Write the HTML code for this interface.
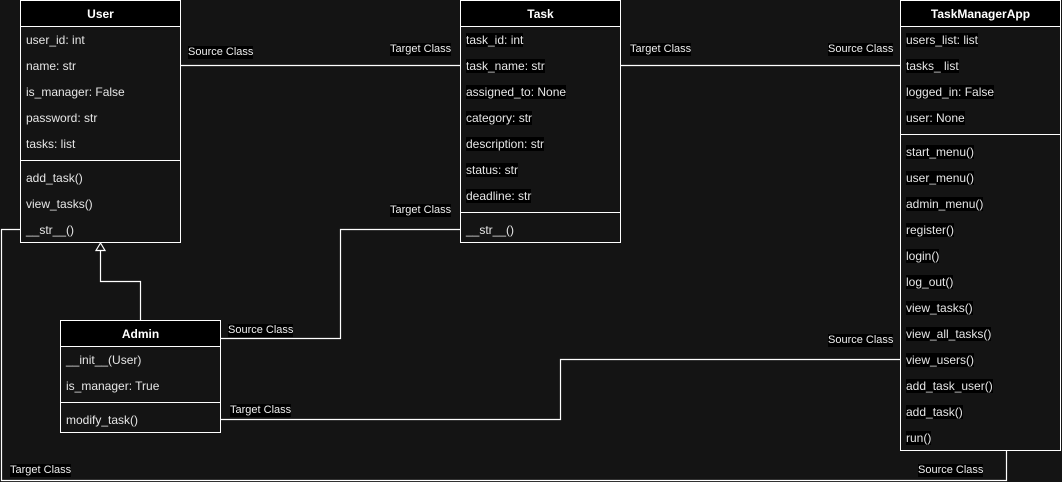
<!DOCTYPE html>
<html><head><meta charset="utf-8"><style>
body{margin:0;width:1062px;height:482px;background:#141414;position:relative;overflow:hidden;font-family:"Liberation Sans",Arial,sans-serif;font-size:12px;color:#e6e6e6}
.b{position:absolute;border:1px solid #fff;box-sizing:border-box;background:#141414}
.h{position:absolute;left:0;right:0;top:0;height:25px;background:#000;border-bottom:1px solid #fff;color:#fff;font-weight:bold;font-size:12px;text-align:center;line-height:26px}
.t{position:absolute;left:5px;line-height:14px;white-space:nowrap}
.k{background:#000}
.s{position:absolute;left:0;right:0;border-top:1px solid #fff}
.l{position:absolute;background:#000;color:#eee;line-height:13px;white-space:nowrap;font-size:11px}
svg{position:absolute;left:0;top:0}
</style></head><body>
<svg width="1062" height="482">
<g stroke="#fff" stroke-width="1.2" fill="none">
<path d="M180 65.5H460"/>
<path d="M620 65.5H900"/>
<path d="M220 338.5H340.5V229.5H460"/>
<path d="M220 419.5H560.5V359.5H900"/>
<path d="M20 229.5H1.5V480.5H1006.5V450"/>
<path d="M140.5 320V281.5H100.5V250"/>
<path d="M100.5 243L96 250.5H105Z" fill="#141414"/>
</g>
</svg>
<div class="b" style="left:20px;top:0;width:161px;height:243px"><div class="h">User</div>
<div class="t" style="top:32px">user_id: int</div><div class="t" style="top:58px">name: str</div><div class="t" style="top:84px">is_manager: False</div><div class="t" style="top:110px">password: str</div><div class="t" style="top:136px">tasks: list</div>
<div class="s" style="top:159px"></div>
<div class="t" style="top:170px">add_task()</div><div class="t" style="top:196px">view_tasks()</div><div class="t" style="top:222px">__str__()</div></div>
<div class="b" style="left:460px;top:0;width:161px;height:243px"><div class="h">Task</div>
<div class="t" style="top:32px"><span class="k">task_id: int</span></div><div class="t" style="top:58px"><span class="k">task_name: str</span></div><div class="t" style="top:84px"><span class="k">assigned_to: None</span></div><div class="t" style="top:110px"><span class="k">category: str</span></div><div class="t" style="top:136px"><span class="k">description: str</span></div><div class="t" style="top:162px"><span class="k">status: str</span></div><div class="t" style="top:188px"><span class="k">deadline: str</span></div>
<div class="s" style="top:211px"></div>
<div class="t" style="top:222px">__str__()</div></div>
<div class="b" style="left:900px;top:0;width:161px;height:451px"><div class="h">TaskManagerApp</div>
<div class="t" style="top:32px"><span class="k">users_list: list</span></div><div class="t" style="top:58px"><span class="k">tasks_ list</span></div><div class="t" style="top:84px"><span class="k">logged_in: False</span></div><div class="t" style="top:110px"><span class="k">user: None</span></div>
<div class="s" style="top:133px"></div>
<div class="t" style="top:144px"><span class="k">start_menu()</span></div><div class="t" style="top:170px"><span class="k">user_menu()</span></div><div class="t" style="top:196px"><span class="k">admin_menu()</span></div><div class="t" style="top:222px"><span class="k">register()</span></div><div class="t" style="top:248px"><span class="k">login()</span></div><div class="t" style="top:274px"><span class="k">log_out()</span></div><div class="t" style="top:300px"><span class="k">view_tasks()</span></div><div class="t" style="top:326px"><span class="k">view_all_tasks()</span></div><div class="t" style="top:352px"><span class="k">view_users()</span></div><div class="t" style="top:378px"><span class="k">add_task_user()</span></div><div class="t" style="top:404px"><span class="k">add_task()</span></div><div class="t" style="top:430px"><span class="k">run()</span></div></div>
<div class="b" style="left:60px;top:320px;width:161px;height:113px"><div class="h">Admin</div>
<div class="t" style="top:32px">__init__(User)</div><div class="t" style="top:58px">is_manager: True</div>
<div class="s" style="top:81px"></div>
<div class="t" style="top:92px">modify_task()</div></div>
<div class="l" style="left:188px;top:46px">Source Class</div>
<div class="l" style="left:390px;top:43px">Target Class</div>
<div class="l" style="left:630px;top:43px">Target Class</div>
<div class="l" style="left:828px;top:43px">Source Class</div>
<div class="l" style="left:390px;top:204px">Target Class</div>
<div class="l" style="left:228px;top:324px">Source Class</div>
<div class="l" style="left:230px;top:404px">Target Class</div>
<div class="l" style="left:828px;top:334px">Source Class</div>
<div class="l" style="left:10px;top:464px">Target Class</div>
<div class="l" style="left:918px;top:464px">Source Class</div>
</body></html>
